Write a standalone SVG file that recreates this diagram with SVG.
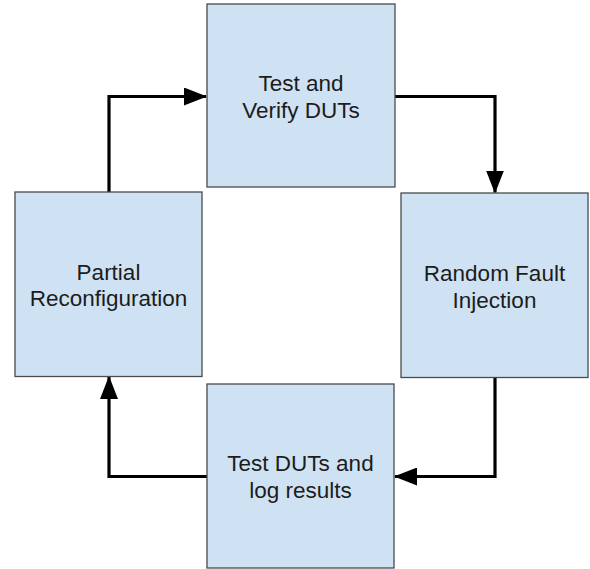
<svg xmlns="http://www.w3.org/2000/svg" width="590" height="569" viewBox="0 0 590 569">
  <style>
    .box { fill: #cfe2f3; stroke: #4a4a4a; stroke-width: 1.3; }
    .label { font-family: "Liberation Sans", Arial, sans-serif; font-size: 22.5px; fill: #1c1c1c; text-anchor: middle; }
    .flow { fill: none; stroke: #000; stroke-width: 3.2; stroke-linejoin: miter; marker-end: url(#head); }
  </style>
  <defs>
    <marker id="head" markerUnits="userSpaceOnUse" markerWidth="23" markerHeight="18" refX="22" refY="9" orient="auto">
      <path d="M0,0 L23,9 L0,18 z" fill="#000"/>
    </marker>
  </defs>

  <rect width="590" height="569" fill="#fff"/>

  <!-- cycle connectors -->
  <g id="connectors">
    <path class="flow" d="M109,192 V96.5 H206"/>
    <path class="flow" d="M395,96.5 H495 V192.5"/>
    <path class="flow" d="M495,377.5 V476.5 H395"/>
    <path class="flow" d="M207,476.5 H109 V377"/>
  </g>

  <g id="test-verify">
    <rect class="box" x="207" y="4" width="188" height="183"/>
    <text class="label" x="301" y="91">Test and<tspan x="301" dy="26.5">Verify DUTs</tspan></text>
  </g>

  <g id="fault-injection">
    <rect class="box" x="401" y="193" width="187" height="184.5"/>
    <text class="label" x="494.5" y="281">Random Fault<tspan x="494.5" dy="26.5">Injection</tspan></text>
  </g>

  <g id="test-log">
    <rect class="box" x="207" y="384" width="187" height="184"/>
    <text class="label" x="300.5" y="471">Test DUTs and<tspan x="300.5" dy="26.5">log results</tspan></text>
  </g>

  <g id="partial-reconfig">
    <rect class="box" x="15" y="192" width="187" height="184.5"/>
    <text class="label" x="108.5" y="279.5">Partial<tspan x="108.5" dy="26.5">Reconfiguration</tspan></text>
  </g>
</svg>
